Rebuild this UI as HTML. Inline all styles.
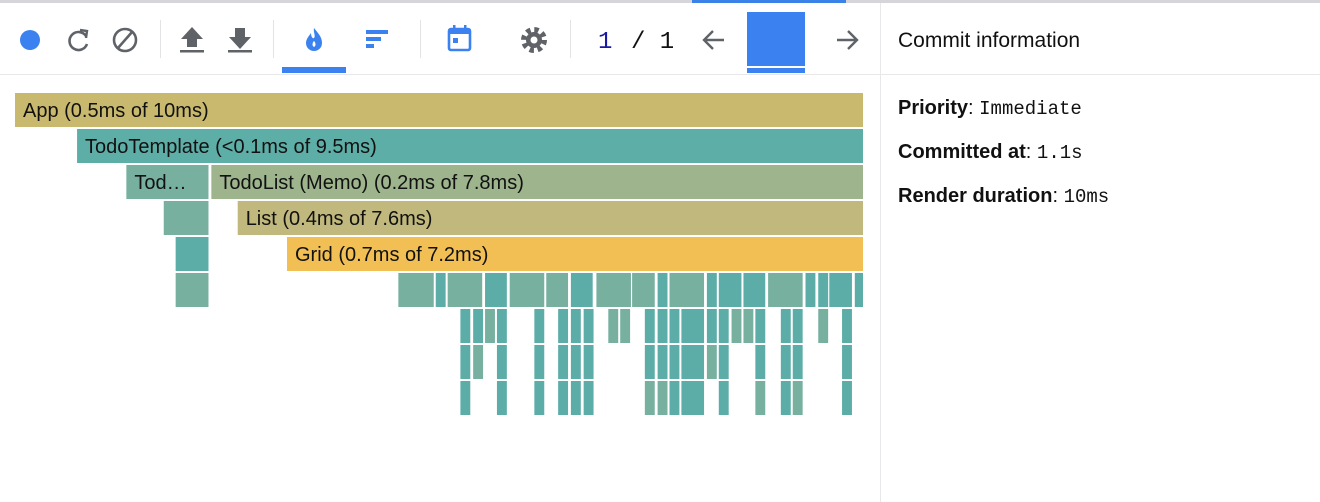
<!DOCTYPE html>
<html><head><meta charset="utf-8"><style>
html,body{margin:0;padding:0;background:#fff;width:1320px;height:502px;overflow:hidden;font-family:"Liberation Sans",sans-serif}
svg{display:block}
</style></head><body>
<svg id="root" width="1320" height="502" viewBox="0 0 1320 502">
<rect x="0" y="0" width="1320" height="3" fill="#d6d6da"/>
<rect x="692" y="0" width="154" height="3" fill="#3b82e8"/>
<line x1="0" y1="74.5" x2="1320" y2="74.5" stroke="#e8e8ea"/>
<line x1="880.5" y1="3" x2="880.5" y2="502" stroke="#e8e8ea"/>
<g>
 <circle cx="30" cy="40" r="10" fill="#3b82f0"/>
 <g fill="none" stroke="#5f6368" stroke-width="2.6">
  <path d="M86 36 A9 9 0 1 0 87 44"/><path d="M80 30 L87 31 L86 38" stroke-width="2.4"/>
 </g>
 <g fill="none" stroke="#5f6368" stroke-width="2.6">
  <circle cx="125" cy="40" r="11"/><line x1="118" y1="48" x2="132" y2="32"/>
 </g>
 <line x1="160.5" y1="20" x2="160.5" y2="58" stroke="#e3e3e5"/>
 <g fill="#5f6368">
  <path d="M192 27 L203 39 L197 39 L197 47 L187 47 L187 39 L181 39 Z"/><rect x="180" y="50" width="24" height="2.5"/>
 </g>
 <g fill="#5f6368">
  <path d="M240 49 L251 37 L245 37 L245 28 L235 28 L235 37 L229 37 Z"/><rect x="228" y="50" width="24" height="2.5"/>
 </g>
 <line x1="273.5" y1="20" x2="273.5" y2="58" stroke="#e3e3e5"/>
 <g>
  <path d="M314 28 C318 33 322 37 322 43 C322 48 318 51 314 51 C310 51 306 48 306 43 C306 39 309 36 311 33 C311 37 313 39 314 38 C316 36 313 32 314 28 Z" fill="#3b82f0"/>
  <path d="M314 41 C316 43 316 46 314 47 C312 46 312 43 314 41 Z" fill="#fff"/>
  <rect x="282" y="67" width="64" height="6" fill="#3b82f0"/>
 </g>
 <g fill="#3b82f0">
  <rect x="366" y="30" width="22" height="4"/><rect x="366" y="37" width="15" height="4"/><rect x="366" y="44" width="8" height="4"/>
 </g>
 <line x1="420.5" y1="20" x2="420.5" y2="58" stroke="#e3e3e5"/>
 <g>
  <rect x="449" y="29" width="21" height="21" rx="2" fill="none" stroke="#3b82f0" stroke-width="2.6"/>
  <rect x="449" y="29" width="21" height="5" fill="#3b82f0"/>
  <rect x="453" y="25" width="2.5" height="5" fill="#3b82f0"/><rect x="464" y="25" width="2.5" height="5" fill="#3b82f0"/>
  <rect x="453" y="38" width="5" height="5" fill="#3b82f0"/>
 </g>
 <g>
  <circle cx="534" cy="40" r="10" fill="none" stroke="#5f6368" stroke-width="6" stroke-dasharray="4.2 3.65"/>
  <circle cx="534" cy="40" r="8" fill="#5f6368"/><circle cx="534" cy="40" r="3.5" fill="#fff"/>
 </g>
 <line x1="570.5" y1="20" x2="570.5" y2="58" stroke="#e3e3e5"/>
 <text x="598" y="48" font-family="Liberation Mono, monospace" font-size="24" fill="#1a1aa6">1</text>
 <text x="631" y="48" font-family="Liberation Mono, monospace" font-size="24" fill="#111">/ 1</text>
 <g fill="none" stroke="#5f6368" stroke-width="2.4">
  <path d="M724 40 H704 M713 31 L704 40 L713 49"/>
 </g>
 <g>
  <rect x="747" y="12" width="58" height="54" fill="#3b82f0"/>
  <rect x="747" y="68" width="58" height="5" fill="#3b82f0"/>
 </g>
 <g fill="none" stroke="#5f6368" stroke-width="2.4">
  <path d="M837 40 H857 M848 31 L857 40 L848 49"/>
 </g>
</g>
<g id="flame"></g>
<g font-family="Liberation Sans, sans-serif" fill="#111">
 <text x="898" y="47" font-size="21">Commit information</text>
 <text x="898" y="114" font-size="20"><tspan font-weight="bold">Priority</tspan>: <tspan font-family="Liberation Mono, monospace" font-size="19">Immediate</tspan></text>
 <text x="898" y="158" font-size="20"><tspan font-weight="bold">Committed at</tspan>: <tspan font-family="Liberation Mono, monospace" font-size="19">1.1s</tspan></text>
 <text x="898" y="202" font-size="20"><tspan font-weight="bold">Render duration</tspan>: <tspan font-family="Liberation Mono, monospace" font-size="19">10ms</tspan></text>
</g>
</svg>
<script>
// flamegraph data (ms)
const totalMs = 10;
const nodeLabels = ["App (0.5ms of 10ms)","TodoTemplate (<0.1ms of 9.5ms)","Tod…","TodoList (Memo) (0.2ms of 7.8ms)","List (0.4ms of 7.6ms)","Grid (0.7ms of 7.2ms)","","","",""];
const nodeDepth = [0,1,2,2,3,4,3,4,5];
const nodeStart = [0,0.73,1.31,2.31,2.62,3.20,1.75,1.89,1.89];
const nodeDur = [10,9.27,0.99,7.69,7.38,6.80,0.55,0.41,0.41];
const nodeColor = ["#c9b96e","#5eaea8","#78b0a0","#9db48d","#c0b87c","#f2bf55","#78b0a0","#5cada8","#78b0a0"];
const row5Start = [4.51,4.95,5.09,5.53,5.82,6.25,6.54,6.84,7.26,7.56,7.70,8.14,8.28,8.57,8.86,9.30,9.45,9.58,9.88];
const row5Dur = [0.44,0.14,0.43,0.28,0.43,0.28,0.28,0.43,0.29,0.14,0.43,0.14,0.29,0.28,0.43,0.14,0.14,0.29,0.12];
const row5Kind = "LTLTLLTLLTLTTTLTTTT";
const row6Start = [5.24,5.39,5.53,5.67,6.11,6.39,6.54,6.69,6.98,7.12,7.41,7.56,7.70,7.84,8.14,8.28,8.43,8.57,8.71,9.01,9.15,9.45,9.73];
const row6Dur = [0.14,0.14,0.14,0.14,0.14,0.14,0.14,0.14,0.14,0.14,0.14,0.14,0.14,0.29,0.14,0.14,0.14,0.14,0.14,0.14,0.14,0.14,0.14];
const row6Kind = "TTLTTTTTLLTTTTTTLLTTTLT";
const row7Start = [5.24,5.39,5.67,6.11,6.39,6.54,6.69,7.41,7.56,7.70,7.84,8.14,8.28,8.71,9.01,9.15,9.73];
const row7Dur = [0.14,0.14,0.14,0.14,0.14,0.14,0.14,0.14,0.14,0.14,0.29,0.14,0.14,0.14,0.14,0.14,0.14];
const row7Kind = "TLTTTTTTTTTLTTTTT";
const row8Start = [5.24,5.67,6.11,6.39,6.54,6.69,7.41,7.56,7.70,7.84,8.28,8.71,9.01,9.15,9.73];
const row8Dur = [0.14,0.14,0.14,0.14,0.14,0.14,0.14,0.14,0.14,0.29,0.14,0.14,0.14,0.14,0.14];
const row8Kind = "TTTTTTLLTTTLTLT";

const X0 = 15, X1 = 865, Y0 = 93, ROW = 36, BH = 34;
function xs(ms){ return X0 + ms/totalMs*(X1-X0); }
function ys(d){ return Y0 + d*ROW; }
const NS = "http://www.w3.org/2000/svg";
const g = document.getElementById('flame');
function bar(depth, s, d, color, label){
  const r = document.createElementNS(NS,'rect');
  const x = xs(s), w = Math.max(1, Math.min(xs(s+d), X1) - x - 2);
  r.setAttribute('x', x); r.setAttribute('y', ys(depth));
  r.setAttribute('width', w); r.setAttribute('height', BH);
  r.setAttribute('fill', color);
  
  
  g.appendChild(r);
  if (label){
    const t = document.createElementNS(NS,'text');
    t.setAttribute('x', x+8); t.setAttribute('y', ys(depth)+24);
    t.setAttribute('font-size','20'); t.setAttribute('fill','#111');
    t.setAttribute('font-family','Liberation Sans, sans-serif');
    t.textContent = label;
    
    
    g.appendChild(t);
  }
}
for (let i=0;i<nodeDepth.length;i++) bar(nodeDepth[i], nodeStart[i], nodeDur[i], nodeColor[i], nodeLabels[i]);
const kc = {T:"#5cada8", L:"#78b0a0"};
[[5,row5Start,row5Dur,row5Kind],[6,row6Start,row6Dur,row6Kind],[7,row7Start,row7Dur,row7Kind],[8,row8Start,row8Dur,row8Kind]].forEach(([d,s,du,k])=>{
  for (let i=0;i<s.length;i++) bar(d, s[i], du[i], kc[k[i]], "");
});
</script>
</body></html>
